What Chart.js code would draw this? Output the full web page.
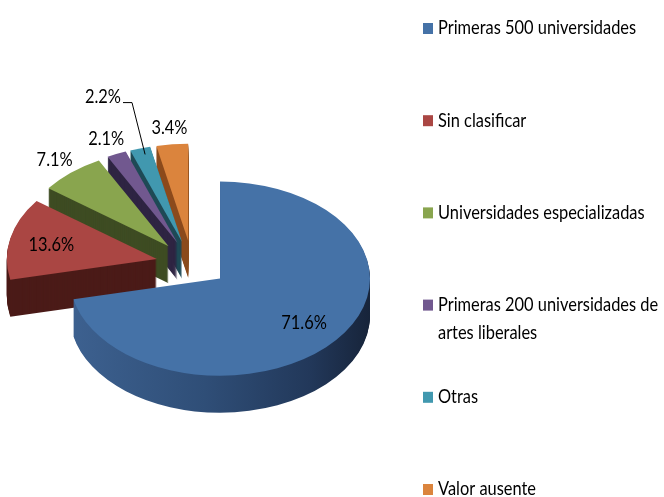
<!DOCTYPE html>
<html>
<head>
<meta charset="utf-8">
<script src="https://cdn.jsdelivr.net/npm/chart.js@4.4.0/dist/chart.umd.min.js"></script>
<style>
html, body { margin: 0; padding: 0; background: #fff; }
</style>
</head>
<body>
<canvas id="myChart" width="664" height="497"></canvas>
<script>
var labels = ["Primeras 500 universidades", "Sin clasificar", "Universidades especializadas",
  "Primeras 200 universidades de artes liberales", "Otras", "Valor ausente"]
var values = [71.6, 13.6, 7.1, 2.1, 2.2, 3.4]
var colors = ["#4572a7", "#aa4643", "#89a54e", "#71588f", "#4198af", "#db843d"]
var sideColors = ["#2b4569", "#4b1b18", "#3e4c23", "#2e2442", "#1f4a56", "#8c4b1d"]

var FONT = '20px Lato, "Open Sans", sans-serif'
var NARROW = 0.82    // squeeze text sideways, the original face is a condensed one
var FLAT = 0.647     // vertical squash of the pie top
var DEPTH = 37       // thickness of the pie
var EXPLODE = 36     // how far each slice is pulled out
var labelNudge = { 4: [-30, -36] }   // "Otras" label sits away with a leader line

function slicePath(ctx, a) {
  ctx.beginPath()
  ctx.moveTo(a.x, a.y)
  ctx.arc(a.x, a.y, a.outerRadius, a.startAngle, a.endAngle)
  ctx.closePath()
}

function place(ctx, a, lift) {
  var mid = (a.startAngle + a.endAngle) / 2
  ctx.translate(0, lift)
  ctx.translate(a.x, a.y)
  ctx.scale(1, FLAT)
  ctx.translate(-a.x, -a.y)
  ctx.translate(Math.cos(mid) * EXPLODE, Math.sin(mid) * EXPLODE)
}

// screen point for radius r along the slice middle
function onSlice(a, r) {
  var mid = (a.startAngle + a.endAngle) / 2
  return {
    x: a.x + Math.cos(mid) * (EXPLODE + r),
    y: a.y + Math.sin(mid) * (EXPLODE + r) * FLAT
  }
}

function narrowText(ctx, txt, x, y, align) {
  var w = ctx.measureText(txt).width * NARROW
  var left = align == 'center' ? x - w / 2 : x
  ctx.save()
  ctx.translate(left, y)
  ctx.scale(NARROW, 1)
  ctx.textAlign = 'left'
  ctx.fillText(txt, 0, 0)
  ctx.restore()
  return w
}

var pie3d = {
  id: 'pie3d',
  beforeDatasetsDraw: function(chart) {
    var ctx = chart.ctx
    var arcs = chart.getDatasetMeta(0).data
    var order = arcs.map(function(a, i) { return i })
    order.sort(function(i, j) {
      var mi = (arcs[i].startAngle + arcs[i].endAngle) / 2
      var mj = (arcs[j].startAngle + arcs[j].endAngle) / 2
      return Math.sin(mi) - Math.sin(mj)
    })
    order.forEach(function(i) {
      var a = arcs[i]
      var side = sideColors[i]
      if (i == 0) {
        var g = ctx.createLinearGradient(a.x - a.outerRadius, 0, a.x + a.outerRadius, 0)
        g.addColorStop(0, '#3d6190')
        g.addColorStop(0.45, '#2f4e77')
        g.addColorStop(0.8, '#22385a')
        g.addColorStop(1, '#17243a')
        side = g
      }
      for (var d = DEPTH; d > 0; d--) {
        ctx.save()
        place(ctx, a, d)
        slicePath(ctx, a)
        ctx.fillStyle = side
        ctx.fill()
        ctx.restore()
      }
      ctx.save()
      place(ctx, a, 0)
      slicePath(ctx, a)
      ctx.fillStyle = colors[i]
      ctx.fill()
      ctx.restore()
    })
    return false
  },
  afterDraw: function(chart) {
    var ctx = chart.ctx
    var arcs = chart.getDatasetMeta(0).data

    // percentage labels
    ctx.save()
    ctx.font = FONT
    ctx.fillStyle = '#000'
    ctx.textBaseline = 'middle'
    arcs.forEach(function(a, i) {
      var r = values[i] > 10 ? a.outerRadius * 0.72 : a.outerRadius * 1.17
      var p = onSlice(a, r)
      var txt = values[i].toFixed(1) + '%'
      if (labelNudge[i]) {
        p.x += labelNudge[i][0]
        p.y += labelNudge[i][1]
        var w = ctx.measureText(txt).width * NARROW
        var end = onSlice(a, a.outerRadius)
        ctx.beginPath()
        ctx.moveTo(p.x + w / 2 + 2, p.y + 6)
        ctx.lineTo(p.x + w / 2 + 11, p.y + 6)
        ctx.lineTo(end.x + 5, end.y + 6)
        ctx.strokeStyle = '#000'
        ctx.lineWidth = 1
        ctx.stroke()
      }
      narrowText(ctx, txt, p.x, p.y, 'center')
    })

    // legend on the right, one row every ~92px
    labels.forEach(function(lab, i) {
      var y = 28 + i * 92.2
      ctx.fillStyle = colors[i]
      ctx.fillRect(423, y - 5, 10, 11)
      ctx.fillStyle = '#000'
      var words = lab.split(' '), line = '', lines = []
      words.forEach(function(w) {
        var t = line ? line + ' ' + w : w
        if (ctx.measureText(t).width * NARROW > 224 && line) { lines.push(line); line = w } else line = t
      })
      lines.push(line)
      lines.forEach(function(l, k) { narrowText(ctx, l, 438, y + k * 28, 'left') })
    })
    ctx.restore()
  }
}

var ctx = document.getElementById('myChart').getContext('2d')
var chart = new Chart(ctx, {
  type: 'pie',
  data: {
    labels: labels,
    datasets: [{
      data: values,
      backgroundColor: colors,
      borderWidth: 0
    }]
  },
  options: {
    responsive: false,
    animation: false,
    radius: 150,
    layout: { padding: { left: 0, right: 280, top: 31, bottom: 0 } },
    plugins: {
      legend: { display: false },
      tooltip: { enabled: false }
    }
  },
  plugins: [pie3d]
})
</script>
</body>
</html>
